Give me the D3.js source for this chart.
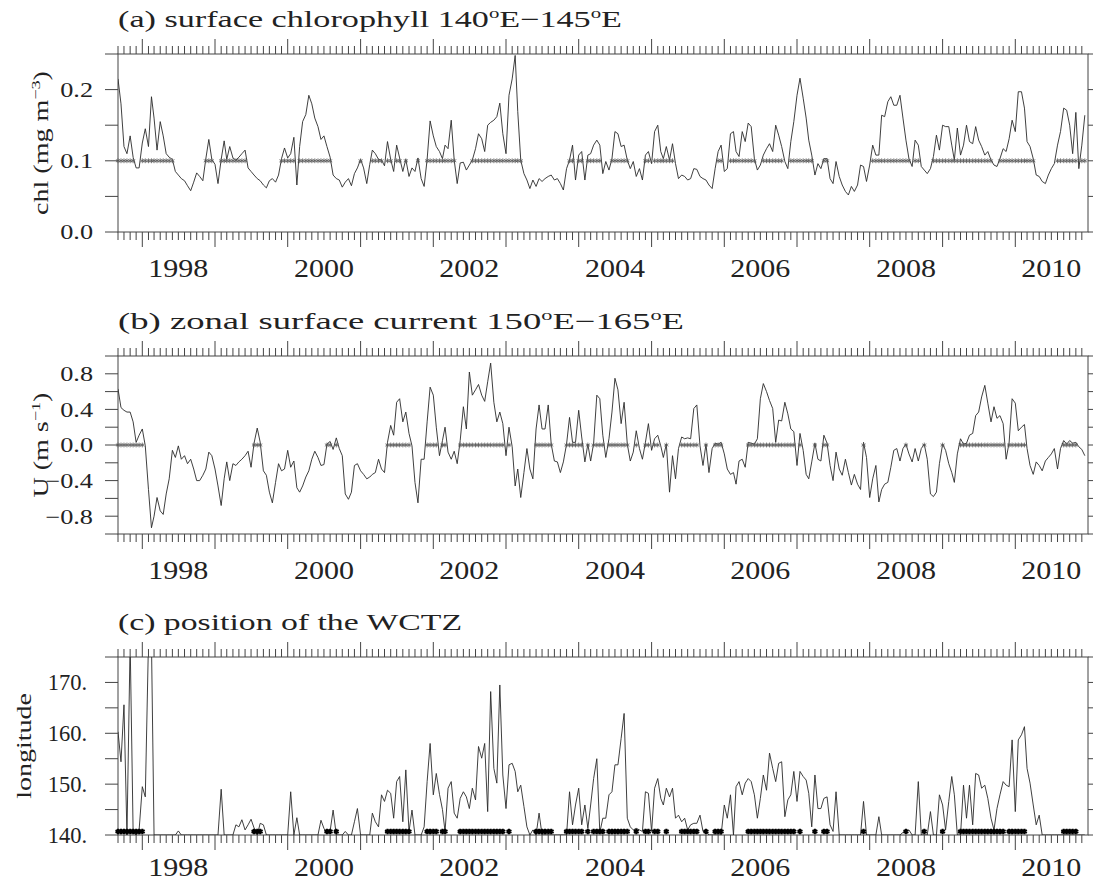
<!DOCTYPE html>
<html lang="en">
<head>
    <meta charset="UTF-8">
    <title>WCTZ time series</title>
    <script src="https://d3js.org/d3.v7.min.js"></script>
    <style>
        body { margin: 0; background: #fff; }
        svg text { font-family: "Liberation Serif", "Times New Roman", serif; fill: #222; }
        .frame { fill: none; stroke: #444; stroke-width: 1; }
        .tick { stroke: #444; stroke-width: 1; }
        .series { fill: none; stroke: #2a2a2a; stroke-width: 0.9; }
        .mark { fill: none; stroke: #555; stroke-width: 0.8; }
        .mark-heavy { fill: none; stroke: #000; stroke-width: 2; }
    </style>
</head>
<body>
<script>
// semi-monthly samples starting 1 Sep 1997 (1st and 16th of each month)
// (a) surface chlorophyll 140E-145E, mg m-3
const chl = [
    0.215, 0.18, 0.12, 0.11, 0.135, 0.105, 0.09, 0.09, 0.125, 0.145,
    0.12, 0.19, 0.16, 0.115, 0.155, 0.135, 0.11, 0.105, 0.102, 0.085,
    0.08, 0.075, 0.072, 0.065, 0.058, 0.07, 0.083, 0.078, 0.072, 0.103,
    0.13, 0.102, 0.095, 0.068, 0.102, 0.128, 0.102, 0.12, 0.104, 0.101,
    0.105, 0.11, 0.115, 0.09, 0.085, 0.08, 0.075, 0.072, 0.066, 0.062,
    0.072, 0.075, 0.07, 0.08, 0.103, 0.118, 0.104, 0.11, 0.133, 0.066,
    0.12, 0.155, 0.165, 0.192, 0.18, 0.16, 0.148, 0.13, 0.135, 0.12,
    0.105, 0.08, 0.075, 0.073, 0.063, 0.07, 0.075, 0.065, 0.082, 0.09,
    0.102, 0.09, 0.068, 0.095, 0.115, 0.11, 0.102, 0.101, 0.093, 0.127,
    0.102, 0.085, 0.122, 0.104, 0.085, 0.102, 0.078, 0.09, 0.085, 0.104,
    0.075, 0.064, 0.102, 0.156, 0.135, 0.12, 0.113, 0.103, 0.122, 0.117,
    0.157, 0.101, 0.068, 0.097, 0.098, 0.087, 0.094, 0.101, 0.117, 0.138,
    0.131, 0.113, 0.15, 0.154, 0.157, 0.162, 0.181, 0.138, 0.11, 0.192,
    0.215, 0.248, 0.169, 0.101, 0.082, 0.073, 0.061, 0.073, 0.064, 0.075,
    0.071, 0.075, 0.078, 0.08, 0.073, 0.075, 0.068, 0.059, 0.089, 0.101,
    0.122, 0.073, 0.108, 0.113, 0.073, 0.108, 0.11, 0.122, 0.129, 0.122,
    0.082, 0.099, 0.087, 0.103, 0.141, 0.138, 0.12, 0.122, 0.101, 0.089,
    0.099, 0.078, 0.089, 0.073, 0.108, 0.113, 0.096, 0.141, 0.15, 0.113,
    0.103, 0.12, 0.101, 0.124, 0.096, 0.075, 0.08, 0.078, 0.073, 0.075,
    0.089, 0.088, 0.078, 0.075, 0.073, 0.066, 0.061, 0.089, 0.113, 0.122,
    0.085, 0.089, 0.138, 0.141, 0.113, 0.106, 0.141, 0.127, 0.153, 0.148,
    0.103, 0.087, 0.094, 0.108, 0.117, 0.124, 0.113, 0.15, 0.136, 0.12,
    0.099, 0.089, 0.127, 0.155, 0.192, 0.216, 0.188, 0.16, 0.129, 0.108,
    0.08, 0.096, 0.089, 0.103, 0.103, 0.075, 0.068, 0.099, 0.078, 0.066,
    0.057, 0.052, 0.064, 0.057, 0.066, 0.094, 0.092, 0.071, 0.094, 0.122,
    0.108, 0.108, 0.164, 0.162, 0.183, 0.19, 0.178, 0.178, 0.192, 0.16,
    0.129, 0.103, 0.092, 0.129, 0.122, 0.092, 0.087, 0.082, 0.089, 0.106,
    0.136, 0.115, 0.15, 0.148, 0.148, 0.122, 0.101, 0.146, 0.108, 0.122,
    0.15, 0.127, 0.124, 0.148, 0.129, 0.12, 0.108, 0.113, 0.101, 0.094,
    0.092, 0.103, 0.117, 0.113, 0.131, 0.157, 0.141, 0.197, 0.197, 0.174,
    0.127, 0.12, 0.103, 0.08, 0.078, 0.071, 0.068, 0.08, 0.089, 0.096,
    0.122, 0.141, 0.174, 0.171, 0.15, 0.11, 0.168, 0.089, 0.122, 0.164
];

// (b) zonal surface current 150E-165E, m s-1
const uCur = [
    0.63, 0.42, 0.39, 0.37, 0.37, 0.26, 0.03, 0.11, 0.18, -0.01,
    -0.5, -0.93, -0.8, -0.59, -0.74, -0.78, -0.55, -0.38, -0.06, -0.14,
    -0.01, -0.16, -0.12, -0.21, -0.16, -0.27, -0.4, -0.4, -0.34, -0.27,
    -0.08, -0.12, -0.27, -0.46, -0.68, -0.38, -0.19, -0.4, -0.21, -0.23,
    -0.19, -0.16, -0.12, -0.07, -0.25, 0.02, 0.19, 0.03, -0.29, -0.34,
    -0.53, -0.65, -0.42, -0.21, -0.29, -0.27, -0.06, -0.25, -0.18, -0.48,
    -0.53, -0.46, -0.36, -0.29, -0.16, -0.07, -0.14, -0.23, -0.22, 0.01,
    0.04, -0.05, 0.08, -0.04, -0.12, -0.55, -0.61, -0.53, -0.23, -0.21,
    -0.29, -0.33, -0.38, -0.36, -0.33, -0.31, -0.16, -0.27, -0.31, 0.03,
    0.22, 0.11, 0.48, 0.52, 0.26, 0.37, 0.13, -0.01, -0.42, -0.65,
    -0.16, -0.16, 0.26, 0.65, 0.56, 0.2, -0.12, 0.05, 0.2, -0.08,
    -0.16, -0.07, -0.21, 0.05, 0.43, 0.18, 0.82, 0.56, 0.62, 0.68,
    0.56, 0.49, 0.71, 0.92, 0.48, 0.26, 0.37, 0.24, -0.12, 0.2,
    -0.02, -0.46, -0.27, -0.59, -0.31, -0.04, -0.27, -0.38, 0.18, 0.45,
    0.18, 0.18, 0.45, 0.01, -0.18, -0.19, -0.31, -0.19, 0.01, 0.31,
    0.03, 0.03, 0.39, 0.09, -0.19, 0.01, -0.18, 0.02, 0.56, 0.52,
    0.11, -0.14, 0.07, 0.37, 0.75, 0.62, 0.24, 0.48, 0.01, -0.18,
    -0.08, 0.16, -0.04, -0.16, 0.03, 0.24, -0.06, 0.07, 0.11, -0.01,
    -0.14, 0.01, -0.53, -0.12, -0.38, -0.04, 0.09, 0.07, 0.08, 0.07,
    0.41, 0.45, -0.01, -0.23, 0.01, -0.31, -0.04, 0.02, 0.01, 0.03,
    -0.1, -0.27, -0.33, -0.31, -0.44, -0.18, -0.16, -0.25, 0.03, 0.02,
    0.01, 0.07, 0.52, 0.69, 0.6, 0.5, 0.41, 0.03, 0.28, 0.27,
    0.48, 0.35, 0.18, 0.15, -0.23, 0.13, -0.06, -0.33, -0.38, -0.19,
    0.02, -0.16, -0.18, 0.11, 0.02, -0.23, -0.4, -0.08, -0.27, -0.34,
    -0.16, -0.31, -0.45, -0.33, -0.44, -0.5, 0.03, -0.14, -0.59, -0.38,
    -0.23, -0.64, -0.5, -0.44, -0.42, -0.25, -0.06, -0.04, -0.18, -0.04,
    0.01, -0.1, -0.19, -0.04, -0.18, -0.04, 0.01, -0.16, -0.55, -0.58,
    -0.53, -0.21, 0.01, -0.06, -0.21, -0.31, -0.42, -0.1, 0.07, 0.01,
    0.02, 0.11, 0.13, 0.33, 0.37, 0.54, 0.67, 0.47, 0.26, 0.43,
    0.3, 0.33, 0.24, -0.16, 0.03, 0.52, 0.47, 0.16, 0.2, 0.23,
    -0.04, -0.23, -0.33, -0.19, -0.23, -0.29, -0.18, -0.14, -0.1, -0.04,
    -0.27, -0.04, 0.05, 0.01, 0.05, 0.02, 0.03, -0.02, -0.05, -0.12
];

// (c) position of the WCTZ, degrees longitude (values above 175 run off the top)
const wctz = [
    160.3, 154.4, 165.6, 140, 178, 140.5, 140, 141, 149.5, 147.5,
    178, 178, 140, 140, 140, 140, 140, 140, 140, 140,
    140.8, 140, 140, 140, 140, 140, 140, 140, 140, 140,
    140, 140, 140, 140, 149, 140, 140, 140, 140, 142,
    141.6, 143, 141, 142, 143.1, 141.4, 140, 142.3, 142, 140,
    140, 140, 140, 140, 140, 140, 140, 148.5, 140, 143.4,
    140, 140, 140, 140, 140, 140, 140, 142.9, 141.3, 140.3,
    140.8, 144.9, 140, 140, 140, 140.7, 140, 140, 142.6, 145.2,
    140, 140, 140, 140, 144.3, 142.6, 141.6, 147.9, 146.6, 148.8,
    148.2, 143.3, 150.5, 151.5, 142.6, 152.8, 140.7, 144.9, 140, 140,
    140, 141.6, 150.5, 158, 147.9, 152.1, 148, 145, 140.7, 149.2,
    150.5, 144.3, 143.3, 147.2, 148.5, 147.5, 145.2, 149.2, 146.9, 157.4,
    155.1, 158, 144.6, 168.2, 153.1, 150.2, 169.5, 151.8, 145.2, 153.8,
    154.1, 152.5, 148.5, 149.8, 145.6, 141.6, 140, 141, 140, 144.3,
    140, 140, 140, 140, 140, 140, 140, 140, 140, 148.5,
    142, 145.9, 149.2, 142, 145.9, 141.3, 145.9, 151.1, 155, 140.5,
    143.3, 143.3, 147.9, 148.5, 153.8, 153.8, 159, 163.9, 143.3, 141.6,
    141, 141.3, 141, 140.7, 148.5, 148.2, 140.7, 149.2, 151.1, 147.2,
    145.9, 149.2, 147.5, 149.2, 143.3, 143.9, 142.6, 143.3, 141, 142,
    142.3, 142.3, 143.9, 140.7, 140.7, 140, 140, 140, 140, 140,
    145.9, 143.3, 147.9, 140, 149.5, 150.5, 147.9, 150.2, 151.1, 150.5,
    147.9, 143.3, 147.2, 151.8, 148.8, 156.1, 153.1, 150.5, 154.1, 154.4,
    143.6, 146.9, 147.9, 152.5, 146.6, 152.5, 151.5, 150.8, 148.2, 141.6,
    151.8, 145.2, 145.2, 147.2, 147.5, 142, 140.7, 148.5, 140, 140,
    140, 140, 140, 140, 140, 140, 146.6, 140, 140, 140,
    140, 143.6, 140, 140, 140, 140, 140, 140, 140, 140.5,
    140.7, 141, 140, 140, 150.5, 140, 140, 140, 144.6, 140,
    140, 147.9, 145.9, 141, 146.6, 151.5, 147.9, 140, 140, 149.8,
    143.3, 149.8, 142, 152.1, 151.8, 149.2, 149.8, 147.2, 143.3, 141,
    145.2, 147.9, 150.5, 149.8, 149.5, 158.7, 144.6, 158.7, 159.7, 161.3,
    153.1, 150.2, 145.9, 142, 143.9, 140, 140, 140, 140, 140,
    140, 140, 140, 140, 140, 140, 140, 140, 140, 140
];

const yearLabels = [1998, 2000, 2002, 2004, 2006, 2008, 2010];
const chlTicks = [0, 0.1, 0.2];
const uTicks = [-0.8, -0.4, 0, 0.4, 0.8];
const lonTicks = [140, 150, 160, 170];

const dates = chl.map((v, i) => new Date(1997, 8 + Math.floor(i / 2), i % 2 ? 16 : 1));

const width = 1094, height = 884;
const left = 118, right = 1088, panelH = 178;

const svg = d3.select("body").append("svg")
    .attr("width", width)
    .attr("height", height);

const x = d3.scaleTime()
    .domain([new Date(1997, 8, 1), new Date(2011, 0, 1)])
    .range([left, right]);

const months = d3.timeMonth.range(new Date(1997, 8, 1), new Date(2011, 0, 1));

// stretch text horizontally, the original lettering is wide
function stretch(sel, k) {
    sel.each(function () {
        const w = this.getComputedTextLength();
        d3.select(this).attr("textLength", w * k).attr("lengthAdjust", "spacingAndGlyphs");
    });
}
function fitTo(sel, w) {
    sel.attr("textLength", w).attr("lengthAdjust", "spacingAndGlyphs");
}

function asterisk(r) {
    const a = r * 0.87, b = r * 0.5;
    return `M0,${-r}L0,${r}M${-a},${-b}L${a},${b}M${-a},${b}L${a},${-b}`;
}

const uPositive = uCur.map(v => v > 0);

const panels = [
    {
        id: "a", top: 54, values: chl, domain: [0, 0.25], minor: d3.range(0, 0.2501, 0.05),
        labels: chlTicks, fmt: d3.format(".1f"), labelSize: 21, labelK: 1.25, labelX: 93,
        marks: chl.map(v => v > 0.1), markAt: 0.1, heavy: false,
        title: ["(a) surface chlorophyll 140", "E\u2212145", "E"], titleW: 504,
        ylab: ["chl (mg m", "\u22123", ")"], ylabX: 48, yearY: 45
    },
    {
        id: "b", top: 356, values: uCur, domain: [-1, 1], minor: d3.range(-1, 1.001, 0.2),
        labels: uTicks, fmt: d3.format(".1f"), labelSize: 21, labelK: 1.25, labelX: 93,
        marks: uPositive, markAt: 0, heavy: false,
        title: ["(b) zonal surface current 150", "E\u2212165", "E"], titleW: 566,
        ylab: ["U (m s", "\u22121", ")"], ylabX: 48, yearY: 45
    },
    {
        id: "c", top: 657, values: wctz, domain: [140, 175], minor: d3.range(140, 175.01, 5),
        labels: lonTicks, fmt: d => d + ".", labelSize: 22.5, labelK: 1.0, labelX: 87,
        marks: uPositive, markAt: 140.7, heavy: true,
        title: ["(c) position of the WCTZ"], titleW: 344,
        ylab: ["longitude"], ylabX: 31, yearY: 41
    }
];

panels.forEach(p => {
    const top = p.top, bottom = p.top + panelH;
    const y = d3.scaleLinear().domain(p.domain).range([bottom, top]);
    const g = svg.append("g").attr("class", "panel-" + p.id);

    g.append("clipPath").attr("id", "clip-" + p.id)
        .append("rect").attr("x", left).attr("y", top)
        .attr("width", right - left).attr("height", panelH);

    // month / year ticks on bottom and top, pointing outward
    const isYear = d => d.getMonth() === 0;
    g.selectAll(".xb").data(months).join("line")
        .attr("class", "tick")
        .attr("x1", d => x(d)).attr("x2", d => x(d))
        .attr("y1", bottom).attr("y2", d => bottom + (isYear(d) ? 15 : 8));
    g.selectAll(".xt").data(months).join("line")
        .attr("class", "tick")
        .attr("x1", d => x(d)).attr("x2", d => x(d))
        .attr("y1", top).attr("y2", d => top - (isYear(d) ? 15 : 8));

    // y ticks
    g.selectAll(".yl").data(p.minor).join("line")
        .attr("class", "tick")
        .attr("x1", left - 13).attr("x2", left)
        .attr("y1", d => y(d)).attr("y2", d => y(d));
    g.selectAll(".yr").data(p.minor).join("line")
        .attr("class", "tick")
        .attr("x1", right).attr("x2", right + 5)
        .attr("y1", d => y(d)).attr("y2", d => y(d));

    g.append("rect").attr("class", "frame")
        .attr("x", left).attr("y", top)
        .attr("width", right - left).attr("height", panelH);

    // series line
    const line = d3.line()
        .x((d, i) => x(dates[i]))
        .y(d => y(d));
    g.append("path")
        .datum(p.values)
        .attr("class", "series")
        .attr("clip-path", `url(#clip-${p.id})`)
        .attr("d", line);

    // markers where the condition holds
    const idx = d3.range(p.values.length).filter(i => p.marks[i]);
    g.selectAll(".mk").data(idx).join("path")
        .attr("class", p.heavy ? "mark-heavy" : "mark")
        .attr("transform", i => `translate(${x(dates[i])},${y(p.markAt)})`)
        .attr("d", asterisk(p.heavy ? 2.8 : 2.4));

    // y tick labels
    const yl = g.selectAll(".ylab").data(p.labels).join("text")
        .attr("x", p.labelX).attr("y", d => y(d))
        .attr("dy", "0.35em")
        .attr("text-anchor", "end")
        .style("font-size", p.labelSize + "px")
        .text(p.fmt);
    stretch(yl, p.labelK);

    // year labels centred on each year
    const xl = g.selectAll(".xlab").data(yearLabels).join("text")
        .attr("x", d => x(new Date(d, 6, 1)))
        .attr("y", bottom + p.yearY)
        .attr("text-anchor", "middle")
        .style("font-size", "26px")
        .text(d => d);
    fitTo(xl, 60);

    // title with superscript o for degrees
    const t = g.append("text")
        .attr("x", left).attr("y", top - 27)
        .style("font-size", "23px");
    p.title.forEach((s, i) => {
        if (i > 0) {
            t.append("tspan").attr("dy", -9).style("font-size", "14px").text("o");
            t.append("tspan").attr("dy", 9).text(s);
        } else {
            t.append("tspan").text(s);
        }
    });
    fitTo(t, p.titleW);

    // rotated y axis title
    const cy = (top + bottom) / 2;
    const yt = g.append("text")
        .attr("transform", `translate(${p.ylabX},${cy}) rotate(-90)`)
        .attr("text-anchor", "middle")
        .style("font-size", "20px");
    yt.append("tspan").text(p.ylab[0]);
    if (p.ylab.length > 1) {
        yt.append("tspan").attr("dy", -8).style("font-size", "13px").text(p.ylab[1]);
        yt.append("tspan").attr("dy", 8).text(p.ylab[2]);
    }
    stretch(yt, 1.4);
});
</script>
</body>
</html>
